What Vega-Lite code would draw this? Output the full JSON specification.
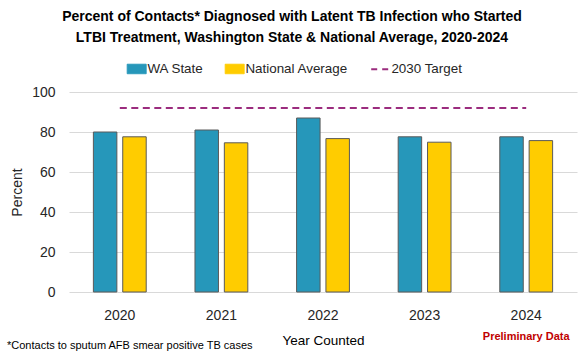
{
  "$schema": "https://vega.github.io/schema/vega-lite/v6.json",
  "background": "white",
  "padding": {"left": 7, "top": 10, "right": 9, "bottom": 2},
  "title": {
    "text": ["Percent of Contacts* Diagnosed with Latent TB Infection who Started", "LTBI Treatment, Washington State & National Average, 2020-2024"],
    "font": "Liberation Sans",
    "fontSize": 14,
    "fontWeight": "bold",
    "color": "#000000",
    "lineHeight": 21,
    "anchor": "middle",
    "frame": "bounds",
    "offset": 17
  },
  "config": {
    "view": {"stroke": null},
    "font": "Liberation Sans",
    "concat": {"spacing": 0}
  },
  "datasets": {
    "bars": [
      {"year": "2020", "series": "WA State", "value": 80.0},
      {"year": "2020", "series": "National Average", "value": 77.6},
      {"year": "2021", "series": "WA State", "value": 81.0},
      {"year": "2021", "series": "National Average", "value": 74.6},
      {"year": "2022", "series": "WA State", "value": 87.0},
      {"year": "2022", "series": "National Average", "value": 76.7},
      {"year": "2023", "series": "WA State", "value": 77.6},
      {"year": "2023", "series": "National Average", "value": 74.9},
      {"year": "2024", "series": "WA State", "value": 77.6},
      {"year": "2024", "series": "National Average", "value": 75.7}
    ],
    "target": [
      {"year": "2020", "series": "2030 Target", "value": 92},
      {"year": "2021", "series": "2030 Target", "value": 92},
      {"year": "2022", "series": "2030 Target", "value": 92},
      {"year": "2023", "series": "2030 Target", "value": 92},
      {"year": "2024", "series": "2030 Target", "value": 92}
    ]
  },
  "vconcat": [
    {
      "width": 508,
      "height": 200,
      "title": {
        "text": "*Contacts to sputum AFB smear positive TB cases",
        "orient": "bottom",
        "anchor": "start",
        "frame": "group",
        "dx": -62,
        "offset": -7,
        "font": "Liberation Sans",
        "fontSize": 11,
        "fontWeight": "normal",
        "color": "#000000"
      },
      "resolve": {"axis": {"x": "independent"}},
      "encoding": {
        "y": {
          "field": "value",
          "type": "quantitative",
          "scale": {"domain": [0, 100]},
          "axis": {
            "title": "Percent",
            "values": [0, 20, 40, 60, 80, 100],
            "labelFontSize": 14,
            "labelColor": "#262626",
            "labelPadding": 14,
            "labelOverlap": false,
            "ticks": false,
            "tickSize": 0,
            "domain": false,
            "gridColor": "#d9d9d9",
            "titleFontSize": 14,
            "titleFontWeight": "normal",
            "titleColor": "#262626",
            "titlePadding": 7
          }
        },
        "color": {
          "field": "series",
          "type": "nominal",
          "scale": {
            "domain": ["WA State", "National Average", "2030 Target"],
            "range": ["#2697BA", "#FFCC00", "#9B2C7E"]
          },
          "legend": {
            "title": null,
            "orient": "none",
            "legendX": 61,
            "legendY": -30,
            "direction": "horizontal",
            "symbolSize": 361,
            "labelFontSize": 13.4,
            "labelColor": "#262626",
            "labelOffset": 4,
            "columnPadding": 19,
            "symbolType": "M-1,-0.5H1V0.5H-1Z",
            "symbolStrokeColor": "#5a5a5a",
            "symbolStrokeWidth": 1,
            "encode": {
              "symbols": {
                "update": {
                  "shape": {"signal": "datum.value === '2030 Target' ? 'stroke' : 'M-1,-0.5H1V0.5H-1Z'"},
                  "strokeDash": {"signal": "datum.value === '2030 Target' ? [6,5] : [1,0]"},
                  "fill": {"signal": "datum.value === '2030 Target' ? 'transparent' : (datum.value === 'WA State' ? '#2697BA' : '#FFCC00')"},
                  "stroke": {"signal": "datum.value === '2030 Target' ? '#9B2C7E' : '#5a5a5a'"},
                  "strokeWidth": {"signal": "datum.value === '2030 Target' ? 2 : 1"},
                  "opacity": {"value": 1}
                }
              }
            }
          }
        }
      },
      "layer": [
        {
          "data": {"name": "bars"},
          "mark": {"type": "bar", "stroke": "#5a5a5a", "strokeWidth": 1},
          "encoding": {
            "x": {
              "field": "year",
              "type": "nominal",
              "scale": {"paddingInner": 0.48, "paddingOuter": 0.24},
              "axis": {
                "title": "Year Counted",
                "labelAngle": 0,
                "labelFontSize": 14,
                "labelColor": "#262626",
                "labelPadding": 16,
                "ticks": false,
                "tickSize": 0,
                "domain": false,
                "titleFontSize": 13.5,
                "titleFontWeight": "normal",
                "titleColor": "#000000",
                "titlePadding": 11
              }
            },
            "xOffset": {
              "field": "series",
              "type": "nominal",
              "scale": {"domain": ["WA State", "National Average"], "paddingInner": 0.2}
            }
          }
        },
        {
          "data": {"name": "target"},
          "mark": {"type": "line", "strokeDash": [7, 4.5], "strokeWidth": 2},
          "encoding": {
            "x": {
              "field": "year",
              "type": "nominal",
              "axis": {
                "title": null,
                "orient": "bottom",
                "labelExpr": "datum.value === '2024' ? 'Preliminary Data' : ''",
                "labelAngle": 0,
                "labelFontSize": 11,
                "labelFontWeight": "bold",
                "labelColor": "#C00000",
                "labelPadding": 38,
                "labelOverlap": false,
                "labelBound": false,
                "ticks": false,
                "tickSize": 0,
                "domain": false,
                "grid": false
              }
            }
          }
        }
      ]
    }
  ]
}
